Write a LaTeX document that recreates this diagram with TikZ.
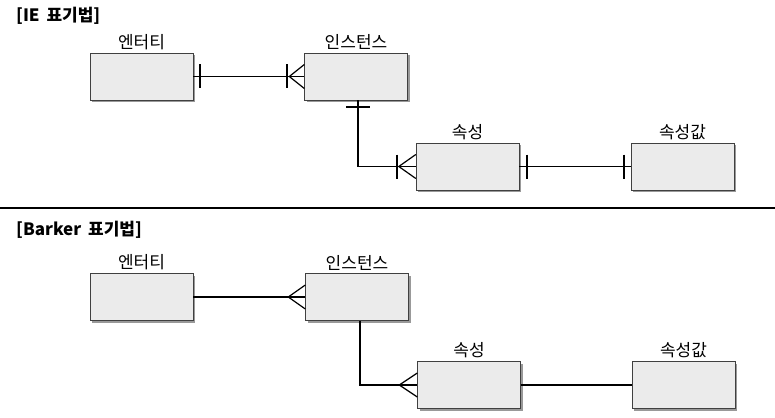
\documentclass[tikz,border=0pt]{standalone}
\usepackage{fontspec}
\setmainfont{Noto Sans CJK KR}
\usetikzlibrary{positioning,shadows}

\tikzset{
  entbox/.style={draw=black!75, fill=black!8, minimum width=103pt, minimum height=47pt,
    inner sep=0pt, drop shadow={shadow xshift=2pt, shadow yshift=-2pt, fill=black!40, opacity=1}},
  lbl/.style={font=\fontsize{17}{20}\selectfont, inner sep=0pt},
  ttl/.style={font=\fontsize{17}{21}\selectfont\bfseries, inner sep=0pt, anchor=west},
  conn/.style={line width=1.2pt},
  cbar/.style={line width=2pt},
}

\begin{document}
\begin{tikzpicture}[x=1pt,y=-1pt]
    \useasboundingbox (0,0) rectangle (775,417);
    % titles and separator
    \node[ttl] (ie) at (16,16) {[IE\hspace{3pt} 표기법]};
    \node[ttl] (bk) at (16,230) {[Barker\hspace{3pt} 표기법]};
    \draw[line width=1.3pt] (0,208) coordinate (sepl) -- (775,208) coordinate (sepr);

    % IE notation
    \node[entbox] (ent1) at (141.5,76.5) {};
    \node[entbox] (inst1) at (356,76.5) {};
    \node[entbox] (attr1) at (467.5,166.5) {};
    \node[entbox] (val1) at (682.5,166.5) {};
    \node[lbl, above=3pt of ent1] (ent1t) {엔터티};
    \node[lbl, above=3pt of inst1] (inst1t) {인스턴스};
    \node[lbl, above=3pt of attr1] (attr1t) {속성};
    \node[lbl, above=3pt of val1] (val1t) {속성값};

    \draw[conn] (ent1.east) -- (inst1.west);
    \draw[cbar] ([xshift=7pt,yshift=12pt]ent1.east) -- ([xshift=7pt,yshift=-12pt]ent1.east);
    \draw[conn] ([xshift=-15pt]inst1.west) -- ([yshift=12pt]inst1.west)
                ([xshift=-15pt]inst1.west) -- ([yshift=-12pt]inst1.west);
    \draw[cbar] ([xshift=-17pt,yshift=12pt]inst1.west) -- ([xshift=-17pt,yshift=-12pt]inst1.west);

    \draw[conn] ([xshift=2pt]inst1.south) |- (attr1.west);
    \draw[cbar] ([xshift=-10pt,yshift=-7pt]inst1.south) -- ([xshift=14pt,yshift=-7pt]inst1.south);
    \draw[conn] ([xshift=-17pt]attr1.west) -- ([yshift=12pt]attr1.west)
                ([xshift=-17pt]attr1.west) -- ([yshift=-12pt]attr1.west);
    \draw[cbar] ([xshift=-19pt,yshift=12pt]attr1.west) -- ([xshift=-19pt,yshift=-12pt]attr1.west);

    \draw[conn] (attr1.east) -- (val1.west);
    \draw[cbar] ([xshift=8pt,yshift=12pt]attr1.east) -- ([xshift=8pt,yshift=-12pt]attr1.east);
    \draw[cbar] ([xshift=-7pt,yshift=12pt]val1.west) -- ([xshift=-7pt,yshift=-12pt]val1.west);

    % Barker notation
    \node[entbox] (ent2) at (141.5,297) {};
    \node[entbox] (inst2) at (357,297) {};
    \node[entbox] (attr2) at (469,385) {};
    \node[entbox] (val2) at (683.5,385) {};
    \node[lbl, above=3pt of ent2] (ent2t) {엔터티};
    \node[lbl, above=3pt of inst2] (inst2t) {인스턴스};
    \node[lbl, above=3pt of attr2] (attr2t) {속성};
    \node[lbl, above=3pt of val2] (val2t) {속성값};

    \draw[conn] (ent2.east) -- (inst2.west);
    \draw[conn] ([xshift=-17pt]inst2.west) -- ([yshift=12pt]inst2.west)
                ([xshift=-17pt]inst2.west) -- ([yshift=-12pt]inst2.west);
    \draw[conn] ([xshift=3pt]inst2.south) |- (attr2.west);
    \draw[conn] ([xshift=-18pt]attr2.west) -- ([yshift=12pt]attr2.west)
                ([xshift=-18pt]attr2.west) -- ([yshift=-12pt]attr2.west);
    \draw[conn] (attr2.east) -- (val2.west);
\end{tikzpicture}
\end{document}
